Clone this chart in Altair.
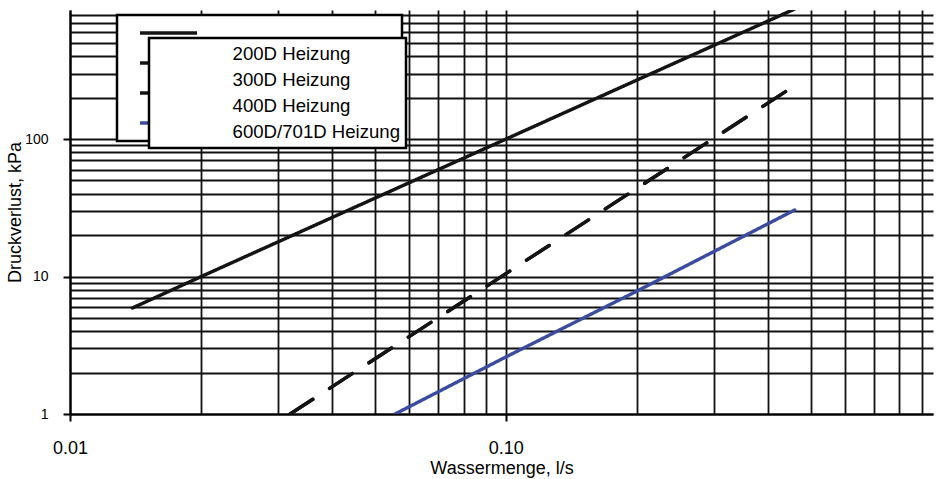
import altair as alt
import pandas as pd

# Pressure-drop curves of the heating coils (flow in l/s, pressure drop in kPa)
series_names = ["200D Heizung", "300D Heizung", "400D Heizung", "600D/701D Heizung"]

flow_200 = [0.0139, 0.02, 0.1, 0.46]
drop_200 = [5.9, 10.0, 100.0, 885.0]

flow_300 = [0.032, 0.1, 0.46]
drop_300 = [1.0, 10.5, 245.0]

flow_400 = [0.032, 0.1, 0.46]
drop_400 = [1.0, 10.5, 245.0]

flow_600 = [0.0557, 0.1, 0.2, 0.46]
drop_600 = [1.0, 2.6, 7.85, 30.5]

series_colors = ["#141414", "#141414", "#141414", "#3B4BA0"]
series_dashes = [[1, 0], [27, 20], [27, 20], [1, 0]]

# Axis labels (only the decades are labelled, every 1..9 step gets a grid line)
x_label_values = [0.01, 0.1]
x_label_texts = ["0.01", "0.10"]
y_label_values = [1, 10, 100]
y_label_texts = ["1", "10", "100"]

x_domain = [0.01, 0.955]
y_domain = [1, 870]

x_grid = [round(m * 10.0 ** e, 4) for e in (-2, -1) for m in range(1, 10)]
y_grid = [m * 10 ** e for e in (0, 1, 2) for m in range(1, 10) if m * 10 ** e <= y_domain[1]]

FONT = "Liberation Sans, Arial, Helvetica, sans-serif"


def label_expr(values, texts):
    expr = "''"
    for v, t in reversed(list(zip(values, texts))):
        expr = f"datum.value == {v} ? '{t}' : ({expr})"
    return expr


def major_test(values):
    return "indexof([" + ",".join(str(v) for v in values) + "], datum.value) >= 0"


rows = []
for name, xs, ys in zip(series_names,
                        [flow_200, flow_300, flow_400, flow_600],
                        [drop_200, drop_300, drop_400, drop_600]):
    for x, y in zip(xs, ys):
        rows.append({"Serie": name, "Name": name, "Wassermenge": x, "Druckverlust": y})
df = pd.DataFrame(rows)

# Legend carrying only the line symbols; the names sit in the second legend
symbol_legend = dict(
    title=None, orient="none", legendX=47, legendY=5, direction="vertical",
    fillColor="white", strokeColor="black", padding=4,
    symbolType="stroke", symbolSize=3249, symbolStrokeWidth=3.5,
    symbolOffset=17, clipHeight=28, rowPadding=2,
    labelExpr="''", labelFontSize=18, labelFont=FONT, labelOffset=199,
)

# Legend carrying the series names, drawn on top of the symbol legend
name_legend = alt.Legend(
    title=None, orient="none", legendX=79, legendY=28,
    direction="vertical", fillColor="white", strokeColor="black",
    padding=5, clipHeight=22, rowPadding=4,
    symbolOpacity=0, symbolSize=100, symbolStrokeWidth=0,
    labelOffset=60, labelFontSize=18.6, labelFont=FONT,
    labelColor="black", labelLimit=400,
)

x_axis = alt.Axis(
    values=x_grid, labelExpr=label_expr(x_label_values, x_label_texts),
    tickOpacity={"condition": {"test": major_test(x_label_values), "value": 1}, "value": 0},
    labelOverlap=False, labelFlush=False, labelPadding=18, labelFontSize=18,
    title="Wassermenge, l/s", titleY=59, titleBaseline="alphabetic",
)
y_axis = alt.Axis(
    values=y_grid, labelExpr=label_expr(y_label_values, y_label_texts),
    tickOpacity={"condition": {"test": major_test(y_label_values), "value": 1}, "value": 0},
    labelOverlap=False, labelFlush=False, labelPadding=15, labelFontSize=14,
    labelBaseline="middle",
    title="Druckverlust, kPa", titleX=-55, titleY=202, titleAngle=-90,
    titleAlign="center", titleBaseline="middle",
)

chart = (
    alt.Chart(df)
    .mark_line(clip=True, strokeWidth=3.4, strokeCap="round")
    .encode(
        x=alt.X("Wassermenge:Q", scale=alt.Scale(type="log", domain=x_domain, nice=False), axis=x_axis),
        y=alt.Y("Druckverlust:Q", scale=alt.Scale(type="log", domain=y_domain, nice=False), axis=y_axis),
        color=alt.Color("Serie:N", scale=alt.Scale(domain=series_names, range=series_colors),
                        legend=alt.Legend(**symbol_legend)),
        strokeDash=alt.StrokeDash("Serie:N", scale=alt.Scale(domain=series_names, range=series_dashes),
                                  legend=alt.Legend(**symbol_legend)),
        opacity=alt.Opacity("Name:N", scale=alt.Scale(range=[1, 1]), legend=name_legend),
        order=alt.Order("Wassermenge:Q"),
    )
    .properties(
        width=863, height=404,
        autosize=alt.AutoSizeParams(type="none"),
        padding={"left": 70, "top": 10, "right": 6, "bottom": 65},
    )
    .configure_view(stroke=None)
    .configure_axis(
        grid=True, gridColor="#111111", gridWidth=1.8, gridOpacity=1,
        domainColor="black", domainWidth=2.2, tickColor="black", tickWidth=2, tickSize=7,
        labelColor="black", labelFont=FONT, titleFont=FONT, titleFontSize=18,
        titleFontWeight="normal", titleColor="black",
    )
    .configure_legend(strokeWidth=2.5)
)

chart.save("out.html", embed_options={"renderer": "svg", "actions": False})
